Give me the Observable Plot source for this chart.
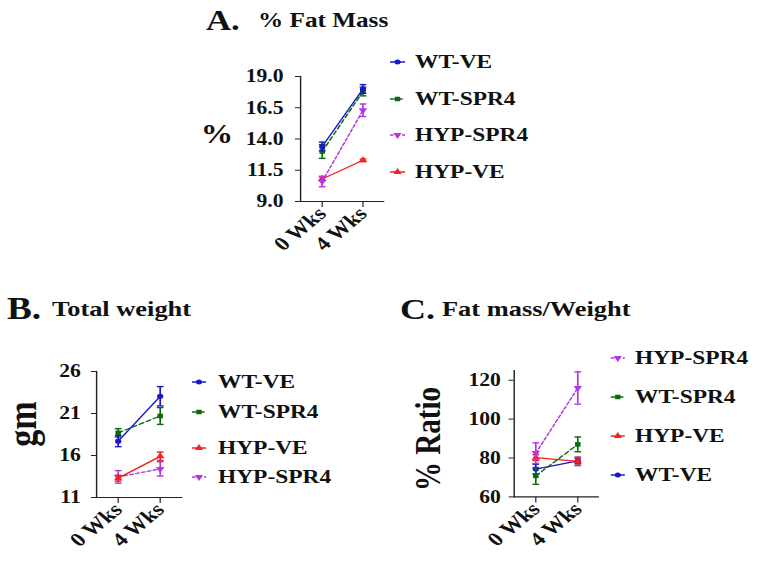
<!DOCTYPE html>
<html><head><meta charset="utf-8">
<script src="https://cdn.jsdelivr.net/npm/d3@7"></script>
<script src="https://cdn.jsdelivr.net/npm/@observablehq/plot@0.6"></script>
<style>
html,body{margin:0;padding:0;background:#fff;}
#wrap{position:relative;width:759px;height:570px;overflow:hidden;background:#fff;}
#stage{position:absolute;left:0;top:0;width:632.5px;height:570px;transform:scaleX(1.2);transform-origin:0 0;
  font-family:"Liberation Serif","Times New Roman",serif;font-weight:bold;color:#111;}
.abs{position:absolute;white-space:nowrap;line-height:1;}
.panel{position:absolute;}
</style></head><body><div id="wrap"><div id="stage"></div></div>
<script>
// ---------- data ----------
const weeks = ["0 Wks", "4 Wks"];
const seriesNames = ["WT-VE", "WT-SPR4", "HYP-SPR4", "HYP-VE"];
// A. % Fat Mass (mean, SEM) per series, per week
const fatMassMean = [[13.4, 18.0], [13.0, 17.8], [10.6, 16.3], [10.8, 12.3]];
const fatMassSem  = [[0.35, 0.35], [0.55, 0.35], [0.42, 0.5], [0.15, 0.1]];
const fatMassTicks = [9.0, 11.5, 14.0, 16.5, 19.0];
// B. Total weight (gm)
const weightMean = [[17.7, 23.05], [18.7, 20.7], [13.45, 14.4], [13.3, 15.9]];
const weightSem  = [[0.65, 1.15], [0.5, 1.0], [0.75, 0.85], [0.35, 0.5]];
const weightTicks = [11, 16, 21, 26];
// C. Fat mass / Weight (% ratio)
const ratioMean = [[74.3, 78.5], [70.8, 87.0], [82.5, 116.0], [80.2, 78.3]];
const ratioSem  = [[2.5, 1.5], [4.3, 3.8], [5.3, 8.3], [1.5, 2.2]];
const ratioTicks = [60, 80, 100, 120];
// legend orders
const legendA = ["WT-VE", "WT-SPR4", "HYP-SPR4", "HYP-VE"];
const legendB = ["WT-VE", "WT-SPR4", "HYP-VE", "HYP-SPR4"];
const legendC = ["HYP-SPR4", "WT-SPR4", "HYP-VE", "WT-VE"];

// ---------- styles ----------
const seriesColors = ["#1818c8", "#0b6a0b", "#b434e6", "#f02222"];
const seriesDash = [null, "4,2.5", "3,2", null];
const seriesSymbol = ["circle", "square", "triangle", "triangle"];
const seriesRotate = [0, 0, 180, 0];

const SX = 1.2; // horizontal stretch of the whole figure
const stage = document.getElementById("stage");
const capSymbol = {draw(ctx, size) { const w = Math.sqrt(size / Math.PI); ctx.moveTo(-w, 0); ctx.lineTo(w, 0); }};

function makeRows(means, sems) {
  return seriesNames.flatMap((s, i) => weeks.map((w, j) => ({
    series: s, week: w, mean: means[i][j], lo: means[i][j] - sems[i][j], hi: means[i][j] + sems[i][j]
  })));
}

function panel({frame, domain, ticks, fmt, means, sems, order, tickPadding}) {
  const rows = makeRows(means, sems);
  const mL = 60, mR = 8, mT = 8, mB = 75;
  const left = frame[0] / SX, right = frame[1] / SX;
  const marks = [];
  for (const s of order) {
    const i = seriesNames.indexOf(s);
    const d = rows.filter(r => r.series === s);
    const c = seriesColors[i];
    marks.push(Plot.line(d, {x: "week", y: "mean", stroke: c, strokeWidth: 1.3, strokeDasharray: seriesDash[i] ?? undefined}));
    marks.push(Plot.ruleX(d, {x: "week", y1: "lo", y2: "hi", stroke: c, strokeWidth: 1.4}));
    marks.push(Plot.dot(d, {x: "week", y: "lo", symbol: capSymbol, r: 2.8, stroke: c, fill: "none", strokeWidth: 1.4}));
    marks.push(Plot.dot(d, {x: "week", y: "hi", symbol: capSymbol, r: 2.8, stroke: c, fill: "none", strokeWidth: 1.4}));
    marks.push(Plot.dot(d, {x: "week", y: "mean", symbol: seriesSymbol[i], rotate: seriesRotate[i], r: 2.6, fill: c, stroke: "none"}));
  }
  const chart = Plot.plot({
    width: mL + (right - left) + mR,
    height: mT + (frame[3] - frame[2]) + mB,
    marginLeft: mL, marginRight: mR, marginTop: mT, marginBottom: mB,
    style: {fontFamily: '"Liberation Serif","Times New Roman",serif', fontWeight: "bold", fontSize: "18px", color: "#111", background: "transparent", overflow: "visible"},
    x: {type: "point", domain: weeks, padding: 0.5},
    y: {domain, ticks},
    marks: [
      Plot.frame({anchor: "left", stroke: "#222", strokeWidth: 1.2}),
      Plot.frame({anchor: "bottom", stroke: "#222", strokeWidth: 1.2}),
      Plot.axisY({ticks, tickFormat: fmt, tickSize: 4.2, tickPadding, label: null, stroke: "#222", fontSize: 18}),
      Plot.axisX({tickSize: 6, tickPadding: 3, tickRotate: -45, label: null, stroke: "#222", fontSize: 19.5}),
      ...marks
    ]
  });
  chart.classList.add("panel");
  chart.style.left = (left - mL) + "px";
  chart.style.top = (frame[2] - mT) + "px";
  stage.appendChild(chart);
}

function text(str, {x, y, size, rotate = 0, center = false}) {
  const el = document.createElement("div");
  el.className = "abs";
  el.textContent = str;
  el.style.fontSize = size + "px";
  el.style.left = (x / SX) + "px";
  if (center) {
    el.style.top = y + "px";
    el.style.transform = `translate(-50%,-50%) rotate(${rotate}deg)`;
  } else {
    el.style.top = (y - 0.84 * size) + "px"; // y = baseline
  }
  stage.appendChild(el);
}

function legend(order, {x0, x1, tx, ys, size}) {
  order.forEach((s, k) => {
    const i = seriesNames.indexOf(s);
    const c = seriesColors[i];
    const w = (x1 - x0) / SX;
    const svg = d3.create("svg").attr("width", w + 2).attr("height", 10)
      .style("position", "absolute").style("left", (x0 / SX - 1) + "px").style("top", (ys[k] - 5) + "px");
    svg.append("line").attr("x1", 1).attr("x2", w + 1).attr("y1", 5).attr("y2", 5)
      .attr("stroke", c).attr("stroke-width", 1.3).attr("stroke-dasharray", seriesDash[i]);
    const sym = d3.symbol().type(seriesSymbol[i] === "circle" ? d3.symbolCircle : seriesSymbol[i] === "square" ? d3.symbolSquare : d3.symbolTriangle).size(20);
    svg.append("path").attr("d", sym()).attr("fill", c)
      .attr("transform", `translate(${w / 2 + 1},5) rotate(${seriesRotate[i]})`);
    stage.appendChild(svg.node());
    const el = document.createElement("div");
    el.className = "abs";
    el.textContent = s;
    el.style.fontSize = size + "px";
    el.style.left = (tx / SX) + "px";
    el.style.top = ys[k] + "px";
    el.style.transform = "translateY(-50%)";
    stage.appendChild(el);
  });
}

// ---------- panels ----------
panel({frame: [300, 383, 76, 201], domain: [9, 19], ticks: fatMassTicks, fmt: d => d.toFixed(1),
  means: fatMassMean, sems: fatMassSem, order: ["HYP-VE", "HYP-SPR4", "WT-SPR4", "WT-VE"], tickPadding: 10});
panel({frame: [96, 181, 370.7, 496.7], domain: [11, 26], ticks: weightTicks, fmt: d => d,
  means: weightMean, sems: weightSem, order: ["HYP-SPR4", "HYP-VE", "WT-SPR4", "WT-VE"], tickPadding: 9});
panel({frame: [513, 597, 370.3, 496.7], domain: [60, 125], ticks: ratioTicks, fmt: d => d,
  means: ratioMean, sems: ratioSem, order: ["WT-VE", "HYP-VE", "WT-SPR4", "HYP-SPR4"], tickPadding: 7});

// ---------- titles and axis labels ----------
text("A.", {x: 206, y: 30, size: 29});
text("% Fat Mass", {x: 258, y: 28, size: 21});
text("B.", {x: 7, y: 319, size: 31});
text("Total weight", {x: 52, y: 316, size: 22});
text("C.", {x: 400, y: 319, size: 30});
text("Fat mass/Weight", {x: 442, y: 316, size: 22});
text("%", {x: 217, y: 134, size: 27, center: true});
text("gm", {x: 23, y: 424, size: 34, rotate: -90, center: true});
text("% Ratio", {x: 428, y: 439, size: 29, rotate: -90, center: true});

// ---------- legends ----------
legend(legendA, {x0: 390, x1: 405, tx: 415, ys: [62, 99, 135, 172], size: 19.5});
legend(legendB, {x0: 192, x1: 206, tx: 218, ys: [382, 412, 448, 477], size: 19.5});
legend(legendC, {x0: 611, x1: 625, tx: 635, ys: [358, 397, 436, 475], size: 19.5});
</script></body></html>
